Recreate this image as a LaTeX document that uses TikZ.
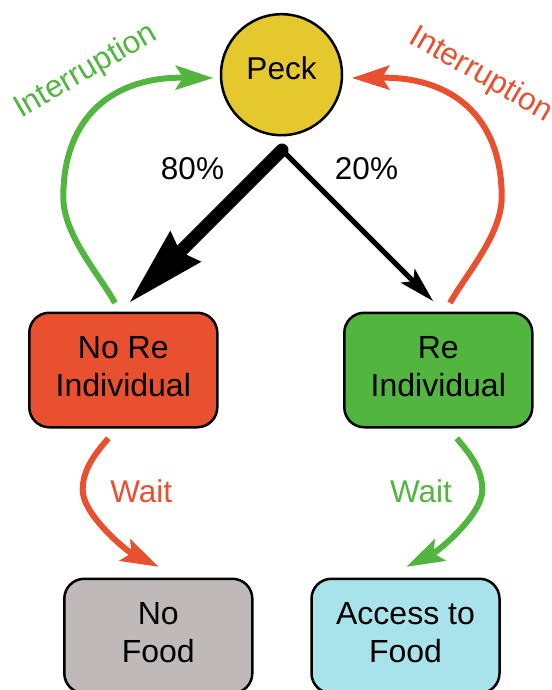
\documentclass[tikz,border=0pt]{standalone}
\usepackage{fontspec}
\setmainfont{Liberation Sans}
\usetikzlibrary{arrows.meta}
\definecolor{peckyellow}{RGB}{228,200,46}
\definecolor{myred}{RGB}{232,80,48}
\definecolor{mygreen}{RGB}{82,181,64}
\definecolor{mygray}{RGB}{191,186,185}
\definecolor{mycyan}{RGB}{168,227,235}
\newcommand\mylowstrut{\rule[-7.4pt]{0pt}{0pt}}
\begin{document}
\begin{tikzpicture}[x=1pt,y=-1pt,
  txt/.style={font=\fontsize{31.5}{38.5}\selectfont},
  box/.style={draw=black, line width=2.5pt, rounded corners=20pt,
    minimum width=188pt, minimum height=114.5pt, align=center, inner sep=0pt,
    font=\fontsize{32}{38.5}\selectfont},
  cflow/.style={line width=6pt, -{Stealth[length=38pt,width=25pt,inset=8pt,line width=0pt]}},
  bigarrow/.style={line width=13pt, line cap=round, -{Stealth[length=79pt,width=44pt,inset=8pt,line width=0pt]}},
  smallarrow/.style={line width=5pt, line cap=round, -{Stealth[length=36pt,width=20pt,inset=8pt,line width=0pt]}},
]
\useasboundingbox (0,0) rectangle (551,690);
% nodes
\node[circle, draw=black, line width=2.5pt, fill=peckyellow, minimum size=121pt, inner sep=0pt, txt,
  text height=23pt, text depth=13.8pt] (peck) at (281.5,74.7) {Peck};
\node[box, fill=myred] (nore) at (123.3,370) {No Re\\Individual\mylowstrut};
\node[box, fill=mygreen] (re) at (438.3,370) {Re\\Individual\mylowstrut};
\node[box, fill=mygray] (nofood) at (158.3,636) {No\\Food\mylowstrut};
\node[box, fill=mycyan] (food) at (405.5,636) {Access to\\Food\mylowstrut};
% black split arrows
\coordinate (apex) at (282,150);
\coordinate (tipL) at (130,302);
\coordinate (tipR) at (433,301);
\draw[bigarrow] (apex) -- (tipL);
\draw[smallarrow] (apex) -- (tipR);
\node[txt] (p80) at (192.5,169) {80\%};
\node[txt] (p20) at (366.5,169) {20\%};
% interruption arcs
\coordinate (gS) at (115,303);
\coordinate (gT) at (213,78);
\coordinate (rS) at (450,303);
\coordinate (rT) at (352,78);
\draw[cflow, mygreen] (gS) .. controls (99,274) and (63.3,235) .. (63.3,197) .. controls (63.3,115) and (115,77) .. (gT);
\draw[cflow, myred] (rS) .. controls (466,274) and (501.7,235) .. (501.7,197) .. controls (501.7,115) and (450,77) .. (rT);
\node[txt, text=mygreen, rotate=30] (intL) at (86,71.5) {Interruption};
\node[txt, text=myred, rotate=-30] (intR) at (480.5,75) {Interruption};
% wait arcs
\coordinate (wrS) at (108.3,438.3);
\coordinate (wrT) at (158.3,566.7);
\coordinate (wgS) at (456.7,438.3);
\coordinate (wgT) at (406.7,566.7);
\draw[cflow, myred] (wrS) .. controls (94,455) and (82.7,470) .. (82.7,490) .. controls (82.7,515) and (127,551) .. (wrT);
\draw[cflow, mygreen] (wgS) .. controls (471,455) and (482.3,470) .. (482.3,490) .. controls (482.3,515) and (438,551) .. (wgT);
\node[txt, text=myred] (wr) at (141.2,491) {Wait};
\node[txt, text=mygreen] (wg) at (421,491) {Wait};
\end{tikzpicture}
\end{document}
